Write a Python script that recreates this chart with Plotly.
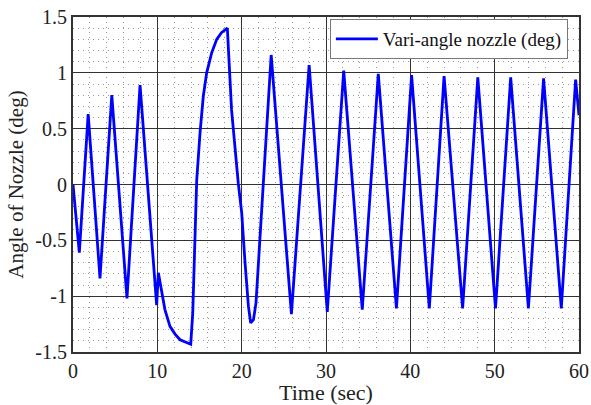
import plotly.graph_objects as go

# Data
time_sec = [0, 0.75, 1.8, 3.2, 4.6, 6.4, 7.95, 9.92, 10.12, 10.5, 10.9, 11.5, 12.1, 12.7,
            13.5, 13.96, 14.2, 14.4, 14.67, 15.06, 15.45, 15.85, 16.45, 17.04, 17.6, 18.3,
            18.8, 19.6, 20.0, 20.4, 20.8, 21.07, 21.4, 21.7, 23.5, 25.9, 28.0, 30.15, 32.1,
            34.3, 36.2, 38.35, 40.15, 42.25, 44.0, 46.2, 48.0, 50.1, 51.9, 54.0, 55.8, 57.9,
            59.6, 60]
angle_deg = [0, -0.61, 0.63, -0.84, 0.80, -1.02, 0.89, -1.08, -0.79, -0.97, -1.12, -1.27,
             -1.34, -1.39, -1.42, -1.43, -1.15, -0.55, 0.04, 0.46, 0.79, 1.0, 1.18, 1.30,
             1.36, 1.40, 0.67, 0.01, -0.25, -0.70, -1.09, -1.24, -1.21, -1.06, 1.16, -1.16,
             1.07, -1.14, 1.02, -1.12, 0.99, -1.11, 0.98, -1.11, 0.97, -1.11, 0.96, -1.11,
             0.96, -1.11, 0.95, -1.11, 0.94, 0.62]

x_tickvals = [0, 10, 20, 30, 40, 50, 60]
x_ticktext = ["0", "10", "20", "30", "40", "50", "60"]
y_tickvals = [-1.5, -1, -0.5, 0, 0.5, 1, 1.5]
y_ticktext = ["-1.5", "-1", "-0.5", "0", "0.5", "1", "1.5"]

series_name = "Vari-angle nozzle (deg)"

FONT = "Liberation Serif"

fig = go.Figure()
fig.add_trace(go.Scatter(
    x=time_sec, y=angle_deg, mode="lines", name=series_name,
    line=dict(color="#0000FF", width=2.8),
))

axis_common = dict(
    showline=True, linecolor="#333333", linewidth=2, mirror=True,
    showgrid=True, gridcolor="#333333", gridwidth=1.2,
    zeroline=False, ticks="", automargin=False,
    tickfont=dict(family=FONT, size=20, color="#222222"),
)

fig.update_layout(
    width=591, height=405,
    margin=dict(l=73, r=12, t=17, b=53),
    paper_bgcolor="white", plot_bgcolor="white",
    font=dict(family=FONT, color="#222222"),
    showlegend=True,
    legend=dict(
        x=0.978, y=0.934, xanchor="right", yanchor="middle",
        bgcolor="white", bordercolor="#777777", borderwidth=1,
        font=dict(family=FONT, size=19, color="#111111"),
        itemwidth=42,
    ),
    xaxis=dict(
        range=[0, 60], tickvals=x_tickvals, ticktext=x_ticktext,
        title=dict(text="Time (sec)", font=dict(family=FONT, size=22, color="#222222"), standoff=6),
        minor=dict(dtick=2, showgrid=True, gridcolor="#999999", griddash="1px,4px", gridwidth=1),
        **axis_common,
    ),
    yaxis=dict(
        range=[-1.5, 1.5], tickvals=y_tickvals, ticktext=y_ticktext,
        title=dict(text="Angle of Nozzle (deg)", font=dict(family=FONT, size=21, color="#222222"), standoff=6),
        minor=dict(dtick=0.1, showgrid=True, gridcolor="#999999", griddash="1px,4px", gridwidth=1),
        **axis_common,
    ),
)

fig.write_html("out.html")
